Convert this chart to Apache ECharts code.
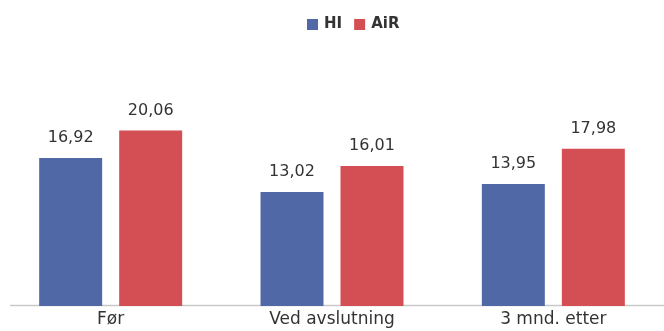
<!DOCTYPE html>
<html>
<head>
<meta charset="utf-8">
<script src="https://cdn.jsdelivr.net/npm/echarts@6/dist/echarts.min.js"></script>
<style>
  html, body { margin: 0; padding: 0; background: #ffffff; }
  #chart { width: 664px; height: 331px; }
</style>
</head>
<body>
<div id="chart"></div>
<script>
// Categories and values for the two groups
const categories = ['Før', 'Ved avslutning', '3 mnd. etter'];
const hiValues = [16.92, 13.02, 13.95];
const airValues = [20.06, 16.01, 17.98];
const seriesNames = ['HI', 'AiR'];

const BLUE = '#5069a6';
const RED = '#d44f53';
const TEXT = '#333333';

const fmt = v => v.toFixed(2).replace('.', ',');

const chart = echarts.init(document.getElementById('chart'), null, { renderer: 'canvas' });

const labelStyle = {
  show: true,
  position: 'top',
  distance: 12,
  fontFamily: 'DejaVu Sans',
  fontSize: 16,
  color: TEXT,
  formatter: p => fmt(p.value)
};

chart.setOption({
  animation: false,
  backgroundColor: '#ffffff',
  legend: {
    top: 12,
    left: 302,
    itemWidth: 11,
    itemHeight: 11,
    itemGap: 12,
    icon: 'rect',
    textStyle: { fontFamily: 'DejaVu Sans', fontWeight: 'bold', fontSize: 15, color: TEXT, padding: [0, 0, 0, 1] },
    data: seriesNames
  },
  grid: { left: -8, right: -44, top: 43.5, bottom: 25, containLabel: false },
  xAxis: {
    type: 'category',
    data: categories,
    axisLine: { show: false },
    axisTick: { show: false },
    axisLabel: { margin: 5, fontFamily: 'DejaVu Sans', fontSize: 17, color: TEXT }
  },
  yAxis: {
    type: 'value',
    min: 0,
    max: 30,
    show: false,
    splitLine: { show: false }
  },
  graphic: [{
    type: 'line',
    shape: { x1: 10, y1: 305.5, x2: 664, y2: 305.5 },
    style: { stroke: '#c9c9c9', lineWidth: 1.5 },
    z: 0
  }],
  series: [
    {
      name: seriesNames[0],
      type: 'bar',
      data: hiValues,
      barWidth: 63,
      barGap: '27%',
      itemStyle: { color: BLUE },
      label: labelStyle
    },
    {
      name: seriesNames[1],
      type: 'bar',
      data: airValues,
      barWidth: 63,
      barGap: '27%',
      itemStyle: { color: RED },
      label: labelStyle
    }
  ]
});
</script>
</body>
</html>
